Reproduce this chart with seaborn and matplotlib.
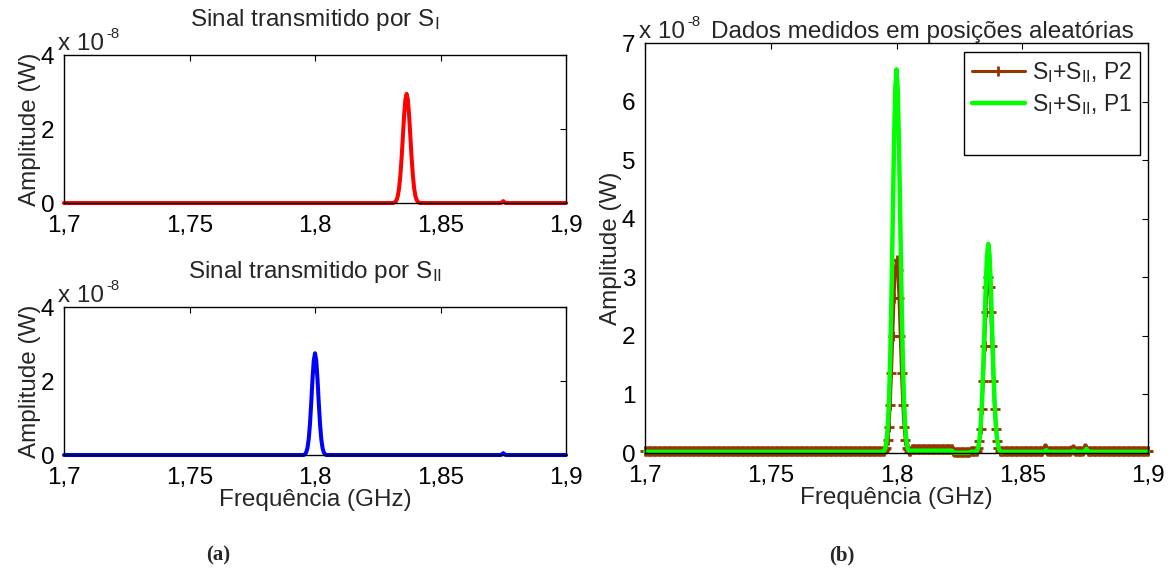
import numpy as np
import matplotlib
matplotlib.use("Agg")
import matplotlib.pyplot as plt
from matplotlib.lines import Line2D
import seaborn as sns

# ---------------------------------------------------------------------------
# Spectra (amplitudes in units of 1e-8 W), sampled every 0.5 MHz
# ---------------------------------------------------------------------------
freq_step = 0.0005
freq_ghz = np.round(1.7 + freq_step * np.arange(401), 4)

x_ticks = [1.7, 1.75, 1.8, 1.85, 1.9]
x_tick_labels = ["1,7", "1,75", "1,8", "1,85", "1,9"]
ya_ticks = [0, 2, 4]
yb_ticks = [0, 1, 2, 3, 4, 5, 6, 7]

# S_I transmitted alone
s1_base = 0.0
s1_plateaus = []
s1_samples = [
    (1.8315, [0.01, 0.03, 0.08, 0.19, 0.40, 0.74, 1.21, 1.79, 2.36, 2.79, 2.95,
              2.79, 2.36, 1.79, 1.21, 0.74, 0.40, 0.19, 0.08, 0.03, 0.01]),
    (1.8745, [0.02, 0.05, 0.02]),
]

# S_II transmitted alone
s2_base = 0.0
s2_plateaus = []
s2_samples = [
    (1.7960, [0.02, 0.07, 0.19, 0.43, 0.84, 1.41, 2.05, 2.55, 2.75,
              2.55, 2.05, 1.41, 0.84, 0.43, 0.19, 0.07, 0.02]),
    (1.8745, [0.02, 0.05, 0.02]),
]

# S_I + S_II measured at position P2
p2_base = 0.04
p2_plateaus = [(1.8060, 1.8220, 0.06), (1.8230, 1.8290, 0.02)]
p2_samples = [
    (1.7955, [0.06, 0.09, 0.22, 0.45, 0.82, 1.36, 2.00, 2.64, 3.12, 3.30,
              3.12, 2.64, 2.00, 1.36, 0.82, 0.45, 0.22, 0.09, 0.06]),
    (1.8325, [0.09, 0.20, 0.41, 0.75, 1.23, 1.82, 2.40, 2.84, 3.00,
              2.84, 2.40, 1.82, 1.23, 0.75, 0.41, 0.20, 0.09]),
    (1.8585, [0.06, 0.08, 0.06]),
    (1.8695, [0.05, 0.07, 0.05]),
    (1.8745, [0.07, 0.09, 0.07]),
]

# S_I + S_II measured at position P1
p1_base = 0.02
p1_plateaus = [(1.8060, 1.8220, 0.04), (1.8230, 1.8290, 0.005)]
p1_samples = [
    (1.7950, [0.03, 0.07, 0.19, 0.43, 0.88, 1.63, 2.69, 3.98, 5.25, 6.20, 6.55,
              6.20, 5.25, 3.98, 2.69, 1.63, 0.88, 0.43, 0.19, 0.07, 0.03]),
    (1.8315, [0.01, 0.04, 0.10, 0.23, 0.48, 0.89, 1.47, 2.17, 2.86, 3.38, 3.57,
              3.38, 2.86, 2.17, 1.47, 0.89, 0.48, 0.23, 0.10, 0.04, 0.01]),
    (1.8590, [0.03, 0.05, 0.03]),
    (1.8700, [0.03, 0.04, 0.03]),
    (1.8750, [0.04, 0.07, 0.04]),
]


def build_series(base, plateaus, samples):
    """Assemble a spectrum on the frequency grid from its baseline,
    flat stretches and listed samples."""
    y = np.full(freq_ghz.size, base, dtype=float)
    idx = lambda f: int(round((f - freq_ghz[0]) / freq_step))
    for f0, f1, level in plateaus:
        y[idx(f0):idx(f1) + 1] = level
    for f0, vals in samples:
        i0 = idx(f0)
        y[i0:i0 + len(vals)] = vals
    return y


s1 = build_series(s1_base, s1_plateaus, s1_samples)
s2 = build_series(s2_base, s2_plateaus, s2_samples)
p2 = build_series(p2_base, p2_plateaus, p2_samples)
p1 = build_series(p1_base, p1_plateaus, p1_samples)

# ---------------------------------------------------------------------------
# Styling
# ---------------------------------------------------------------------------
sns.set_style("white")
plt.rcParams["font.family"] = ["Liberation Sans", "DejaVu Sans"]
plt.rcParams["mathtext.fontset"] = "custom"
plt.rcParams["mathtext.rm"] = "Liberation Sans"
plt.rcParams["mathtext.it"] = "Liberation Sans:italic"
plt.rcParams["mathtext.bf"] = "Liberation Sans:bold"

FS = 17.5
W, H = 1172, 575
fig = plt.figure(figsize=(W / 100, H / 100), dpi=100)
fig.patch.set_facecolor("white")

ax1 = fig.add_axes([64 / W, 1 - 203 / H, 502 / W, 148 / H])
ax2 = fig.add_axes([64 / W, 1 - 455 / H, 502 / W, 148 / H])
ax3 = fig.add_axes([645 / W, 1 - 453 / H, 503 / W, 410 / H])


def style_axes(ax, yticks):
    ax.set_xlim(1.7, 1.9)
    ax.set_ylim(yticks[0], yticks[-1])
    ax.set_xticks(x_ticks)
    ax.set_xticklabels(x_tick_labels)
    ax.set_yticks(yticks)
    ax.set_yticklabels([str(t) for t in yticks])
    ax.tick_params(direction="in", top=True, right=True, length=4, width=0.8,
                   labelsize=FS, colors="black")
    ax.tick_params(axis="x", pad=8.5)
    ax.tick_params(axis="y", pad=7)
    for sp in ax.spines.values():
        sp.set_visible(True)
        sp.set_color("black")
        sp.set_linewidth(1.0)
    ax.set_facecolor("white")
    ax.grid(False)
    # scale factor written above the y axis: "x 10" with a small raised "-8"
    base_txt = ax.text(-0.012, 1.0, "x 10", transform=ax.transAxes,
                       fontsize=FS, ha="left", va="bottom")
    ax.annotate("-8", xy=(1.0, 0.62), xycoords=base_txt, xytext=(1.5, 0),
                textcoords="offset points", fontsize=FS * 0.62,
                ha="left", va="bottom")


# (a) top: S_I
sns.lineplot(x=freq_ghz, y=s1, ax=ax1, color="#ff0000", linewidth=2.9,
             clip_on=False)
style_axes(ax1, ya_ticks)
ax1.set_title(r"Sinal transmitido por S$_{\rm I}$", fontsize=FS, pad=21)
ax1.set_ylabel("Amplitude (W)", fontsize=FS, labelpad=0)
ax1.set_xlabel("")

# (a) bottom: S_II
sns.lineplot(x=freq_ghz, y=s2, ax=ax2, color="#0000ff", linewidth=2.9,
             clip_on=False)
style_axes(ax2, ya_ticks)
ax2.set_title(r"Sinal transmitido por S$_{\rm II}$", fontsize=FS, pad=21)
ax2.set_ylabel("Amplitude (W)", fontsize=FS, labelpad=0)
ax2.set_xlabel("Frequência (GHz)", fontsize=FS, labelpad=0)

# (b) combined measurements
brown = "#993300"
sns.lineplot(x=freq_ghz, y=p2, ax=ax3, color=brown, linewidth=2.2,
             marker="+", markersize=7, markeredgewidth=2.0,
             markeredgecolor=brown, markerfacecolor=brown, clip_on=False,
             label=r"S$_{\rm I}$+S$_{\rm II}$, P2")
sns.lineplot(x=freq_ghz, y=p1, ax=ax3, color="#00ff00", linewidth=3.2,
             clip_on=False, label=r"S$_{\rm I}$+S$_{\rm II}$, P1")
style_axes(ax3, yb_ticks)
ax3.text(0.552, 1.0, "Dados medidos em posições aleatórias",
         transform=ax3.transAxes, fontsize=FS, ha="center", va="bottom")
ax3.set_ylabel("Amplitude (W)", fontsize=FS, labelpad=0)
ax3.set_xlabel("Frequência (GHz)", fontsize=FS, labelpad=0)

handles, labels = ax3.get_legend_handles_labels()
handles.append(Line2D([], [], linestyle="none"))
labels.append("")
leg = ax3.legend(handles, labels, loc="upper right",
                 bbox_to_anchor=(0.984, 0.978), borderaxespad=0,
                 fontsize=FS - 1, frameon=True, fancybox=False, framealpha=1,
                 edgecolor="black", handlelength=2.3, borderpad=0.35,
                 labelspacing=0.3, handletextpad=0.3)
leg.get_frame().set_linewidth(1.0)

fig.text(218 / W, 1 - 555 / H, "(a)", ha="center", va="center",
         fontsize=15, fontweight="bold", family="Liberation Serif")
fig.text(842 / W, 1 - 555 / H, "(b)", ha="center", va="center",
         fontsize=15, fontweight="bold", family="Liberation Serif")

fig.savefig("out.png", dpi=100, facecolor="white")
